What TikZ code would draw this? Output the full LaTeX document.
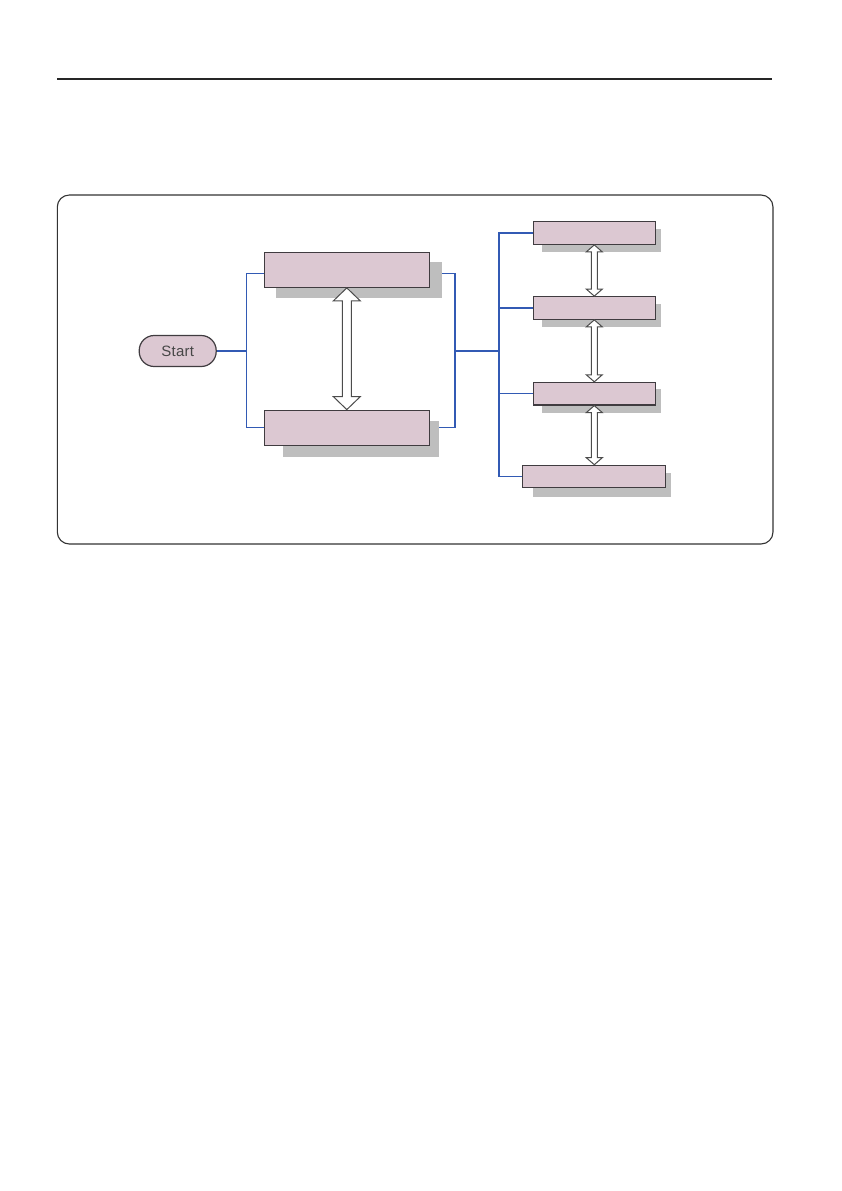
\documentclass[tikz,border=0pt]{standalone}
\usepackage{fontspec}
\setmainfont{Liberation Sans}
\newfontfamily\startfont[LetterSpace=2]{Liberation Sans}
\usepackage{tikz}
\usetikzlibrary{calc,backgrounds}

\definecolor{boxpink}{RGB}{220,200,210}
\definecolor{shadowgray}{RGB}{190,190,190}
\definecolor{linkblue}{RGB}{50,90,180}
\definecolor{edgegray}{RGB}{64,60,64}

\newcommand{\boxshadow}[4]{\fill[shadowgray] ($(#1.south west)+(#2,#4)$) rectangle ($(#1.north east)+(#3,#4)$);}
\newcommand{\hollowarrow}[5]{%
\draw[arrowline] let \p1=(#1), \p2=(#2) in
 (\x1,\y1) -- (\x1-#4,\y1-#5) -- (\x1-#3,\y1-#5) -- (\x1-#3,\y2+#5) -- (\x1-#4,\y2+#5) -- (\x1,\y2)
 -- (\x1+#4,\y2+#5) -- (\x1+#3,\y2+#5) -- (\x1+#3,\y1-#5) -- (\x1+#4,\y1-#5) -- cycle;}

\begin{document}
\begin{tikzpicture}[x=1pt,y=-1pt,
  menubox/.style={draw=edgegray, line width=1.2pt, fill=boxpink, inner sep=0pt},
  startbox/.style={menubox, rounded corners=15pt, minimum width=77pt, minimum height=31pt,
    text=black!72, font=\startfont\fontsize{15}{18}\selectfont},
  link/.style={draw=linkblue, line width=1.3pt},
  arrowline/.style={draw=black!70, line width=1pt, fill=white}]
 \useasboundingbox (0,0) rectangle (842,1191);

\draw[line width=1.3pt, black!85] (57,79) -- (772,79);
\draw[line width=1.1pt, black!80, rounded corners=12pt] (57.3,195) rectangle (773,544);

\node[startbox] (start) at (177.7,351) {Start};
\node[menubox, minimum width=165pt, minimum height=35pt] (A) at (346.8,269.8) {};
\node[menubox, minimum width=165pt, minimum height=35pt] (B) at (346.8,427.7) {};

\foreach \n/\y in {1/233, 2/308, 3/393.7}
	\node[menubox, minimum width=122pt, minimum height=22.6pt] (r\n) at (594.3,\y) {};
\node[menubox, minimum width=142.6pt, minimum height=22pt] (r4) at (594,476.3) {};

\coordinate (splitL) at (246.7,351);
\coordinate (splitR) at (455,351);
\coordinate (bus) at (499,351);

\begin{scope}[on background layer]
\draw[link] (start.east) -- (splitL);
\draw[link] ([yshift=-4pt]A.west) -| (splitL) |- (B.west);
\draw[link] ([yshift=-4pt]A.east) -| (splitR) |- (B.east);
\draw[link] (splitR) -- (bus);
\draw[link] (r1.west) -| (bus) |- (r4.west);
\foreach \n in {2,3}
	\draw[link] (bus |- r\n.west) -- (r\n.west);

\boxshadow{A}{12.7}{12.4}{10}
\boxshadow{B}{19.7}{9.4}{11}
\foreach \n in {1,2,3}
	{\boxshadow{r\n}{9.4}{4.7}{7.4}}
\boxshadow{r4}{11.3}{5.4}{8.7}
\end{scope}

\hollowarrow{A.south}{B.north}{4.5pt}{13.5pt}{13pt}
\foreach \a/\b in {r1/r2, r2/r3, r3/r4}
	{\hollowarrow{\a.south}{\b.north}{3pt}{8pt}{7pt}}

\end{tikzpicture}
\end{document}
